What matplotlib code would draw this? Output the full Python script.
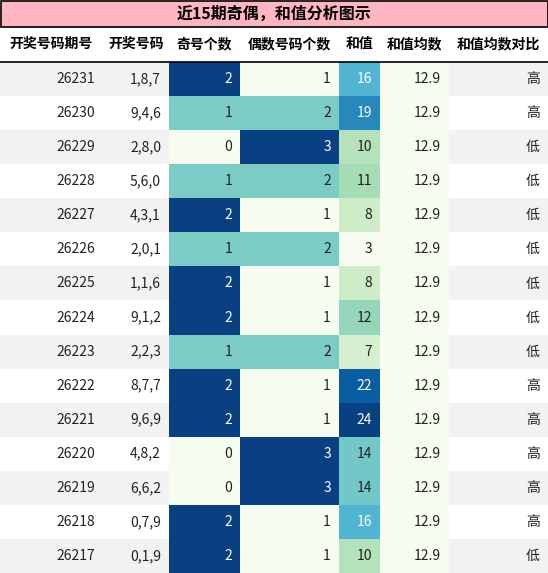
import matplotlib
matplotlib.use("Agg")
import matplotlib.pyplot as plt
from matplotlib.patches import Rectangle
from matplotlib.colors import Normalize

plt.rcParams['font.family'] = ['Noto Sans CJK SC', 'DejaVu Sans']

title = "近15期奇偶，和值分析图示"
headers = ["开奖号码期号", "开奖号码", "奇号个数", "偶数号码个数", "和值", "和值均数", "和值均数对比"]
periods = ["26231","26230","26229","26228","26227","26226","26225","26224","26223","26222","26221","26220","26219","26218","26217"]
numbers = ["1,8,7","9,4,6","2,8,0","5,6,0","4,3,1","2,0,1","1,1,6","9,1,2","2,2,3","8,7,7","9,6,9","4,8,2","6,6,2","0,7,9","0,1,9"]
odd = [2,1,0,1,2,1,2,2,1,2,2,0,0,2,2]
even = [1,2,3,2,1,2,1,1,2,1,1,3,3,1,1]
sums = [16,19,10,11,8,3,8,12,7,22,24,14,14,16,10]
avg = [12.9]*15
compare = ["高","高","低","低","低","低","低","低","低","高","高","高","高","高","低"]

W, H = 548, 573
fig = plt.figure(figsize=(W/100, H/100), dpi=100)
ax = fig.add_axes([0, 0, 1, 1])
ax.set_xlim(0, W); ax.set_ylim(H, 0); ax.axis('off')

cols = [0, 103, 169, 240, 339, 380, 449, 548]
top_title, top_head, top_rows = 0, 26, 62
rh = (H - top_rows) / 15
cmap = plt.get_cmap('GnBu')
n_odd = Normalize(0, 2); n_even = Normalize(1, 3); n_sum = Normalize(3, 24)

ax.add_patch(Rectangle((0.5, 0.5), W-1, 26, facecolor='#ffb6c1', edgecolor='black', lw=1.2, zorder=3))
ax.text(W/2, 13.5, title, ha='center', va='center', fontsize=11.5, fontweight='bold', zorder=4)
for i, h in enumerate(headers):
    ax.text((cols[i]+cols[i+1])/2, 44, h, ha='center', va='center', fontsize=10, fontweight='bold')
ax.plot([0, W], [61.5, 61.5], color='black', lw=1.2, zorder=4)

for r in range(15):
    y = top_rows + r*rh
    bg = '#f2f2f2' if r % 2 == 0 else 'white'
    vals = [periods[r], numbers[r], str(odd[r]), str(even[r]), str(sums[r]), f"{avg[r]:.1f}", compare[r]]
    norms = [None, None, n_odd(odd[r]), n_even(even[r]), n_sum(sums[r]), 0.0, None]
    for c in range(7):
        x0, x1 = cols[c], cols[c+1]
        fc = bg if norms[c] is None else cmap(norms[c])
        ax.add_patch(Rectangle((x0, y), x1-x0, rh, facecolor=fc, edgecolor='none'))
        tc = 'white' if (norms[c] is not None and norms[c] > 0.6) else '#222222'
        ax.text(x1-8, y+rh/2, vals[c], ha='right', va='center', fontsize=10, color=tc)

fig.savefig('out.png', dpi=100)
